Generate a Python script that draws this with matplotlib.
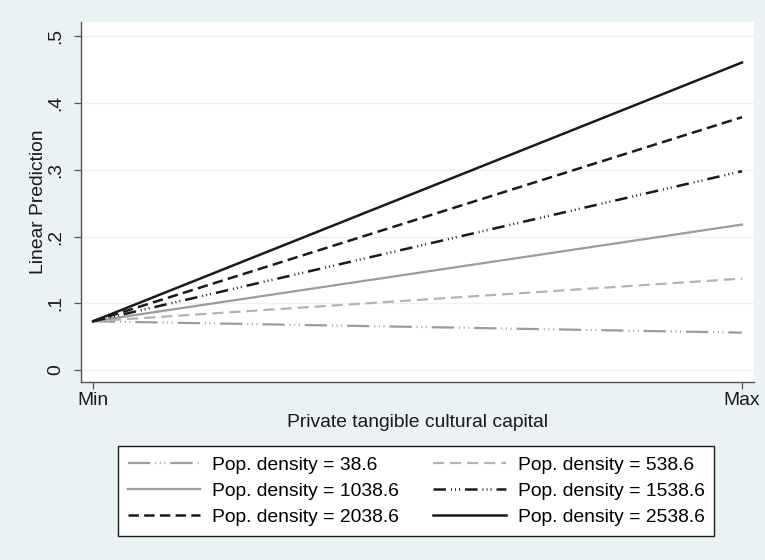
import matplotlib
matplotlib.use("Agg")
import matplotlib.pyplot as plt
import numpy as np

plt.rcParams['font.family'] = ['Liberation Sans', 'DejaVu Sans']
plt.rcParams['lines.scale_dashes'] = False

# margins: predicted value at min / max of cultural capital, by pop. density
x_pos = [0, 1]
x_labels = ['Min', 'Max']
pop_density = [38.6, 538.6, 1038.6, 1538.6, 2038.6, 2538.6]
pred_min = [0.073, 0.073, 0.073, 0.073, 0.073, 0.073]
pred_max = [0.056, 0.137, 0.218, 0.298, 0.379, 0.461]
y_ticks = [0, 0.1, 0.2, 0.3, 0.4, 0.5]
y_ticklabels = ['0', '.1', '.2', '.3', '.4', '.5']

bg = '#eaf2f3'
gray = '#9c9c9c'
ltgray = '#b3b3b3'
black = '#1a1a1a'

# stata-ish line styles: (color, width, dash pattern in points)
styles = [
    (gray, 1.6, (0, (16, 3.6, 0.7, 2.6, 0.7, 2.6, 0.7, 3.6))),
    (ltgray, 1.6, (0, (8, 4.3))),
    (gray, 1.6, '-'),
    (black, 1.8, (0, (9, 3.6, 0.7, 2.2, 0.7, 2.2, 0.7, 3.6))),
    (black, 1.8, (0, (7.5, 3.8))),
    (black, 1.8, '-'),
]

fig = plt.figure(figsize=(7.65, 5.6), dpi=100, facecolor=bg)
ax = fig.add_axes([81/765, 1-382/560, 673/765, 360/560])
ax.set_facecolor('white')

lines = []
for d, y0, y1, (c, lw, ls) in zip(pop_density, pred_min, pred_max, styles):
    ln, = ax.plot(x_pos, [y0, y1], color=c, lw=lw, linestyle=ls,
                  dash_capstyle='butt', label=f'Pop. density = {d}')
    lines.append(ln)

ax.set_xlim(-0.0185, 1.0185)
ax.set_ylim(-0.018, 0.5217)
ax.set_xticks(x_pos)
ax.set_xticklabels(x_labels)
ax.set_yticks(y_ticks)
ax.set_yticklabels(y_ticklabels, rotation=90, va='center')

ax.yaxis.grid(True, color=bg, lw=1.0)
ax.set_axisbelow(True)
for s in ['top', 'right']:
    ax.spines[s].set_visible(False)
for s in ['left', 'bottom']:
    ax.spines[s].set_color('#555555')
    ax.spines[s].set_linewidth(1.0)
ax.tick_params(axis='both', length=5, width=0.9, color='#555555',
               labelsize=13.9, labelcolor=black)
ax.tick_params(axis='y', pad=7)
ax.tick_params(axis='x', pad=2)

ax.set_xlabel('Private tangible cultural capital', fontsize=13.9, color=black, labelpad=4)
ax.set_ylabel('Linear Prediction', fontsize=13.9, color=black, labelpad=0)

# legend filled row by row (matplotlib fills columns first)
order = [0, 2, 4, 1, 3, 5]
handles = [lines[i] for i in order]
labels = [lines[i].get_label() for i in order]
leg = fig.legend(handles, labels, loc='center', bbox_to_anchor=(416/765, 1-491/560), ncol=2,
                 fontsize=13.9, frameon=True, fancybox=False,
                 handlelength=3.74, handletextpad=0.62, columnspacing=1.8,
                 labelspacing=0.45, borderpad=0.5)
leg.get_frame().set_edgecolor(black)
leg.get_frame().set_linewidth(1.0)
leg.get_frame().set_facecolor('white')
leg.get_frame().set_alpha(1)

fig.savefig('out.png', dpi=100, facecolor=bg)
